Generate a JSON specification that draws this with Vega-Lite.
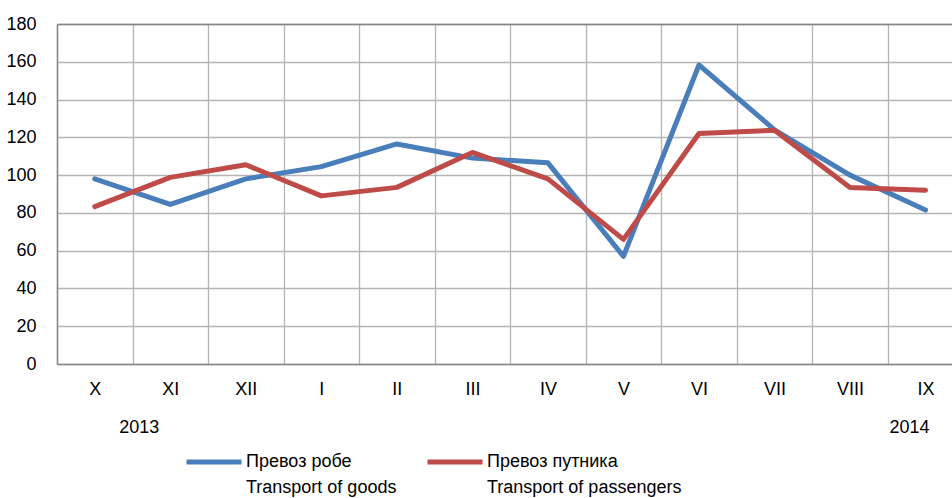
{
  "$schema": "https://vega.github.io/schema/vega-lite/v6.json",
  "width": 895,
  "height": 340,
  "autosize": "none",
  "padding": {"left": 57, "top": 24, "right": 0, "bottom": 134},
  "config": {
    "view": {"stroke": null},
    "font": "Liberation Sans",
    "text": {"font": "Liberation Sans"},
    "axisY": {"labelOverlap": false},
    "style": {"guide-label": {"lineHeight": 26}}
  },
  "resolve": {"axis": {"x": "independent"}},
  "layer": [
    {
      "data": {"values": [
        {"i": 0, "month": "X", "series": "Превоз робе|Transport of goods", "value": 98},
        {"i": 1, "month": "XI", "series": "Превоз робе|Transport of goods", "value": 84.5},
        {"i": 2, "month": "XII", "series": "Превоз робе|Transport of goods", "value": 98},
        {"i": 3, "month": "I", "series": "Превоз робе|Transport of goods", "value": 104.5},
        {"i": 4, "month": "II", "series": "Превоз робе|Transport of goods", "value": 116.5},
        {"i": 5, "month": "III", "series": "Превоз робе|Transport of goods", "value": 109},
        {"i": 6, "month": "IV", "series": "Превоз робе|Transport of goods", "value": 106.5},
        {"i": 7, "month": "V", "series": "Превоз робе|Transport of goods", "value": 57},
        {"i": 8, "month": "VI", "series": "Превоз робе|Transport of goods", "value": 158.3},
        {"i": 9, "month": "VII", "series": "Превоз робе|Transport of goods", "value": 124},
        {"i": 10, "month": "VIII", "series": "Превоз робе|Transport of goods", "value": 100},
        {"i": 11, "month": "IX", "series": "Превоз робе|Transport of goods", "value": 81.5},
        {"i": 0, "month": "X", "series": "Превоз путника|Transport of passengers", "value": 83.3},
        {"i": 1, "month": "XI", "series": "Превоз путника|Transport of passengers", "value": 98.8},
        {"i": 2, "month": "XII", "series": "Превоз путника|Transport of passengers", "value": 105.5},
        {"i": 3, "month": "I", "series": "Превоз путника|Transport of passengers", "value": 89},
        {"i": 4, "month": "II", "series": "Превоз путника|Transport of passengers", "value": 93.5},
        {"i": 5, "month": "III", "series": "Превоз путника|Transport of passengers", "value": 112},
        {"i": 6, "month": "IV", "series": "Превоз путника|Transport of passengers", "value": 98},
        {"i": 7, "month": "V", "series": "Превоз путника|Transport of passengers", "value": 66},
        {"i": 8, "month": "VI", "series": "Превоз путника|Transport of passengers", "value": 122},
        {"i": 9, "month": "VII", "series": "Превоз путника|Transport of passengers", "value": 123.8},
        {"i": 10, "month": "VIII", "series": "Превоз путника|Transport of passengers", "value": 93.5},
        {"i": 11, "month": "IX", "series": "Превоз путника|Transport of passengers", "value": 92}
      ]},
      "mark": {"type": "line", "strokeWidth": 5, "strokeJoin": "round", "strokeCap": "round"},
      "encoding": {
        "x": {
          "field": "i", "type": "quantitative",
          "scale": {"domain": [-0.5, 11.35], "nice": false, "zero": false},
          "axis": {
            "orient": "bottom", "title": null,
            "values": [0, 1, 2, 3, 4, 5, 6, 7, 8, 9, 10, 11],
            "labelExpr": "['X','XI','XII','I','II','III','IV','V','VI','VII','VIII','IX'][datum.value]",
            "grid": false, "ticks": false, "labelFlush": false, "labelOverlap": false,
            "domain": true, "domainColor": "#868686", "domainWidth": 1.5,
            "labelFontSize": 18, "labelColor": "#000000", "labelPadding": 16,
            "labelFont": "Liberation Sans"
          }
        },
        "y": {
          "field": "value", "type": "quantitative",
          "scale": {"domain": [0, 180], "nice": false},
          "axis": {
            "title": null,
            "values": [0, 20, 40, 60, 80, 100, 120, 140, 160, 180],
            "grid": true, "gridColor": "#b4b4b4", "gridWidth": 1.3,
            "ticks": false, "domain": true, "domainColor": "#868686", "domainWidth": 1.5,
            "labelOverlap": false, "labelFlush": false,
            "labelFontSize": 18, "labelColor": "#000000", "labelPadding": 21,
            "labelFont": "Liberation Sans"
          }
        },
        "color": {
          "field": "series", "type": "nominal",
          "scale": {
            "domain": ["Превоз робе|Transport of goods", "Превоз путника|Transport of passengers"],
            "range": ["#4A7EBB", "#BE4B48"]
          },
          "legend": {
            "orient": "none", "legendX": 127, "legendY": 408,
            "direction": "horizontal", "columns": 2, "title": null,
            "symbolType": "stroke", "symbolSize": 3025, "symbolStrokeWidth": 5,
            "labelFontSize": 18, "labelColor": "#000000",
            "labelFont": "Liberation Sans",
            "labelExpr": "split(datum.label, '|')",
            "labelOffset": 2, "columnPadding": 20, "labelLimit": 400
          }
        }
      }
    },
    {
      "data": {"values": [{"year": "2013", "i": 1}]},
      "mark": {"type": "text", "fontSize": 18, "color": "#000000", "dx": -31, "baseline": "middle"},
      "encoding": {
        "x": {
          "field": "i", "type": "quantitative",
          "scale": {"domain": [-0.5, 11.35], "nice": false, "zero": false},
          "axis": {
            "orient": "top", "title": null,
            "values": [-0.5, 0.5, 1.5, 2.5, 3.5, 4.5, 5.5, 6.5, 7.5, 8.5, 9.5, 10.5],
            "grid": true, "gridColor": "#b4b4b4", "gridWidth": 1.3,
            "labels": false, "ticks": false,
            "domain": true, "domainColor": "#868686", "domainWidth": 1.5
          }
        },
        "y": {
          "datum": -33.8, "type": "quantitative",
          "scale": {"domain": [0, 180], "nice": false},
          "axis": {
            "title": null,
            "values": [0, 20, 40, 60, 80, 100, 120, 140, 160, 180],
            "grid": true, "gridColor": "#b4b4b4", "gridWidth": 1.3,
            "ticks": false, "domain": true, "domainColor": "#868686", "domainWidth": 1.5,
            "labelOverlap": false, "labelFlush": false,
            "labelFontSize": 18, "labelColor": "#000000", "labelPadding": 21,
            "labelFont": "Liberation Sans"
          }
        },
        "text": {"field": "year"}
      }
    },
    {
      "data": {"values": [{"year": "2014", "i": 11}]},
      "mark": {"type": "text", "fontSize": 18, "color": "#000000", "dx": -16, "baseline": "middle"},
      "encoding": {
        "x": {
          "field": "i", "type": "quantitative",
          "scale": {"domain": [-0.5, 11.35], "nice": false, "zero": false},
          "axis": null
        },
        "y": {
          "datum": -33.8, "type": "quantitative",
          "scale": {"domain": [0, 180], "nice": false},
          "axis": {
            "title": null,
            "values": [0, 20, 40, 60, 80, 100, 120, 140, 160, 180],
            "grid": true, "gridColor": "#b4b4b4", "gridWidth": 1.3,
            "ticks": false, "domain": true, "domainColor": "#868686", "domainWidth": 1.5,
            "labelOverlap": false, "labelFlush": false,
            "labelFontSize": 18, "labelColor": "#000000", "labelPadding": 21,
            "labelFont": "Liberation Sans"
          }
        },
        "text": {"field": "year"}
      }
    }
  ]
}
